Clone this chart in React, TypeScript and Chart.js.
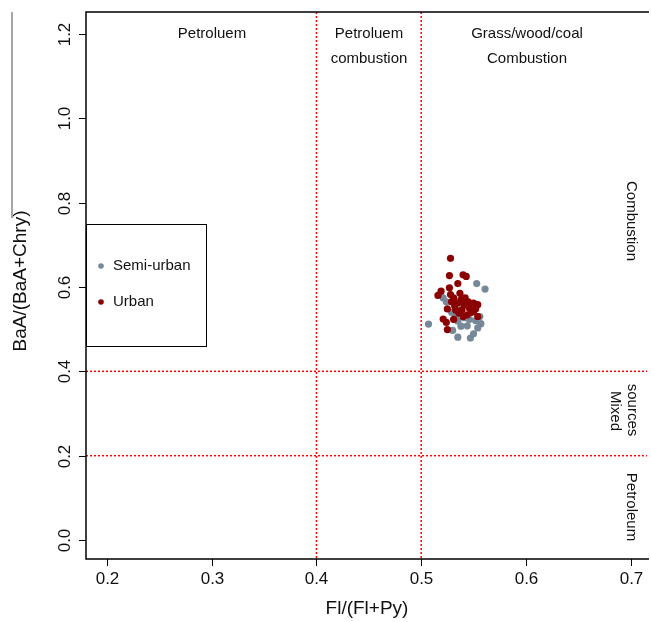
import React, { useEffect, useRef } from "react";
import { Chart, registerables } from "chart.js";

Chart.register(...registerables);

const urban: [number, number][] = [
  [0.528, 0.668], [0.527, 0.627], [0.540, 0.629], [0.543, 0.625], [0.535, 0.608],
  [0.527, 0.598], [0.519, 0.590], [0.516, 0.580], [0.528, 0.582], [0.531, 0.574],
  [0.538, 0.570], [0.542, 0.574], [0.535, 0.562], [0.541, 0.558], [0.550, 0.562],
  [0.554, 0.558], [0.546, 0.550], [0.539, 0.546], [0.525, 0.548], [0.550, 0.542],
  [0.536, 0.538], [0.531, 0.523], [0.521, 0.524], [0.524, 0.516], [0.544, 0.534],
  [0.554, 0.530], [0.525, 0.499], [0.532, 0.555], [0.545, 0.565], [0.537, 0.585],
  [0.548, 0.540], [0.540, 0.530], [0.529, 0.565], [0.533, 0.545], [0.552, 0.548],
];

const semiUrban: [number, number][] = [
  [0.553, 0.608], [0.561, 0.595], [0.521, 0.574], [0.507, 0.512], [0.538, 0.507],
  [0.544, 0.508], [0.554, 0.503], [0.557, 0.513], [0.530, 0.497], [0.535, 0.481],
  [0.547, 0.479], [0.550, 0.489], [0.535, 0.519], [0.541, 0.527], [0.546, 0.523],
  [0.538, 0.545], [0.524, 0.565], [0.529, 0.540], [0.552, 0.520], [0.556, 0.530],
  [0.533, 0.530],
];

const xTicks = [0.2, 0.3, 0.4, 0.5, 0.6, 0.7];
const yTicks = [0.0, 0.2, 0.4, 0.6, 0.8, 1.0, 1.2];
const xLines = [0.4, 0.5];
const yLines = [0.4, 0.2];
const seriesNames = ["Semi-urban", "Urban"];
const seriesColors = ["#778899", "#8B0000"];
const xTitle = "Fl/(Fl+Py)";
const yTitle = "BaA/(BaA+Chry)";

const FONT = "'Liberation Sans', Arial, sans-serif";

const overlay = {
  id: "overlay",
  beforeDatasetsDraw(chart: any) {
    const { ctx, chartArea: a, scales } = chart;
    const xs = scales.x, ys = scales.y;
    ctx.save();
    ctx.strokeStyle = "#FF0000";
    ctx.lineWidth = 1.5;
    ctx.setLineDash([2, 2]);
    for (const v of xLines) {
      const px = xs.getPixelForValue(v);
      ctx.beginPath(); ctx.moveTo(px, a.top); ctx.lineTo(px, a.bottom); ctx.stroke();
    }
    for (const v of yLines) {
      const py = ys.getPixelForValue(v);
      ctx.beginPath(); ctx.moveTo(a.left, py); ctx.lineTo(a.right, py); ctx.stroke();
    }
    ctx.restore();
  },
  afterDatasetsDraw(chart: any) {
    const { ctx, chartArea: a, scales } = chart;
    const xs = scales.x, ys = scales.y;
    ctx.save();
    // frame (left, top, bottom)
    ctx.strokeStyle = "#000";
    ctx.lineWidth = 1.5;
    ctx.beginPath();
    ctx.moveTo(a.right + 2, a.top); ctx.lineTo(a.left, a.top);
    ctx.lineTo(a.left, a.bottom); ctx.lineTo(a.right + 2, a.bottom);
    ctx.stroke();

    // ticks
    ctx.lineWidth = 1;
    ctx.fillStyle = "#111";
    ctx.font = `17px ${FONT}`;
    ctx.textAlign = "center";
    ctx.textBaseline = "middle";
    for (const v of xTicks) {
      const px = Math.round(xs.getPixelForValue(v)) + 0.5;
      ctx.beginPath(); ctx.moveTo(px, a.bottom); ctx.lineTo(px, a.bottom + 7); ctx.stroke();
      ctx.fillText(v.toFixed(1), px, a.bottom + 20);
    }
    for (const v of yTicks) {
      const py = Math.round(ys.getPixelForValue(v)) + 0.5;
      ctx.beginPath(); ctx.moveTo(a.left - 7, py); ctx.lineTo(a.left, py); ctx.stroke();
      ctx.save();
      ctx.translate(a.left - 21, py);
      ctx.rotate(-Math.PI / 2);
      ctx.fillText(v.toFixed(1), 0, 0);
      ctx.restore();
    }

    // axis titles
    ctx.font = `19px ${FONT}`;
    ctx.fillText(xTitle, 367, 609);
    ctx.save();
    ctx.translate(21, 281);
    ctx.rotate(-Math.PI / 2);
    ctx.fillText(yTitle, 0, 0);
    ctx.restore();

    // stray gray line at left
    ctx.strokeStyle = "#888";
    ctx.lineWidth = 1.5;
    ctx.beginPath(); ctx.moveTo(12, 12); ctx.lineTo(12, 218); ctx.stroke();

    // region labels
    ctx.font = `15px ${FONT}`;
    ctx.fillStyle = "#111";
    ctx.fillText("Petroluem", 212, 34);
    ctx.fillText("Petroluem", 369, 34);
    ctx.fillText("combustion", 369, 59);
    ctx.fillText("Grass/wood/coal", 527, 34);
    ctx.fillText("Combustion", 527, 59);
    const vText = (t: string, x: number, y: number) => {
      ctx.save(); ctx.translate(x, y); ctx.rotate(Math.PI / 2); ctx.fillText(t, 0, 0); ctx.restore();
    };
    vText("Combustion", 631, 221);
    vText("sources", 632, 410);
    vText("Mixed", 615, 411);
    vText("Petroleum", 631, 507);

    // legend
    ctx.strokeStyle = "#000";
    ctx.lineWidth = 1;
    ctx.strokeRect(86.5, 224.5, 120, 122);
    ctx.textAlign = "left";
    const ly = [266, 302];
    seriesNames.forEach((n, i) => {
      ctx.fillStyle = seriesColors[i];
      ctx.beginPath(); ctx.arc(101, ly[i], 2.8, 0, Math.PI * 2); ctx.fill();
      ctx.fillStyle = "#111";
      ctx.fillText(n, 113, ly[i]);
    });
    ctx.restore();
  },
};

export default function App() {
  const ref = useRef<HTMLCanvasElement | null>(null);
  useEffect(() => {
    if (!ref.current) return;
    const chart = new Chart(ref.current, {
      type: "scatter",
      data: {
        datasets: [
          {
            label: seriesNames[1],
            data: urban.map(([x, y]) => ({ x, y })),
            backgroundColor: seriesColors[1],
            borderWidth: 0,
            pointRadius: 3.6,
          },
          {
            label: seriesNames[0],
            data: semiUrban.map(([x, y]) => ({ x, y })),
            backgroundColor: seriesColors[0],
            borderWidth: 0,
            pointRadius: 3.6,
          },
        ],
      },
      options: {
        responsive: false,
        animation: false,
        layout: { padding: { left: 86, top: 12, right: 0, bottom: 63 } },
        plugins: { legend: { display: false }, tooltip: { enabled: false } },
        scales: {
          x: { type: "linear", display: false, min: 0.18, max: 0.7156 },
          y: { type: "linear", display: false, min: -0.045, max: 1.252 },
        },
      },
      plugins: [overlay],
    });
    return () => chart.destroy();
  }, []);
  return (
    <div style={{ position: "absolute", left: 0, top: 0, width: 651, height: 622, background: "#fff" }}>
      <canvas ref={ref} width={651} height={622} style={{ display: "block" }} />
    </div>
  );
}
